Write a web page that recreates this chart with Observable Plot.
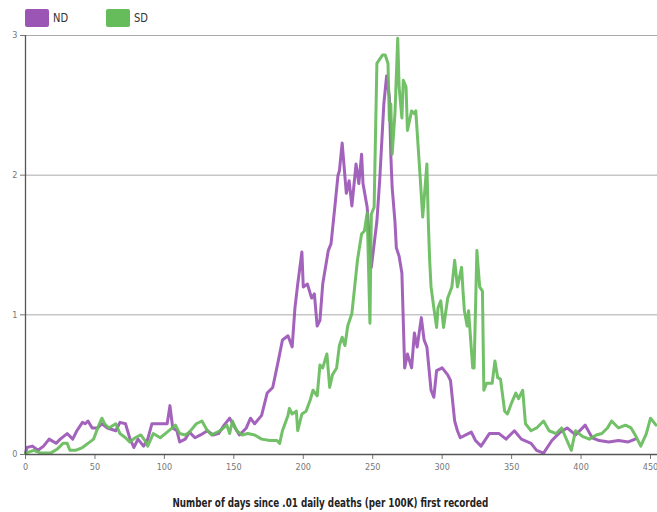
<!DOCTYPE html>
<html>
<head>
<meta charset="utf-8">
<script src="https://cdn.jsdelivr.net/npm/d3@7"></script>
<script src="https://cdn.jsdelivr.net/npm/@observablehq/plot@0.6"></script>
<style>
  html, body { margin: 0; padding: 0; background: #fff; }
  body { width: 657px; height: 512px; overflow: hidden; font-family: "DejaVu Sans Condensed", "Liberation Sans", sans-serif; }
  #legend { position: relative; height: 30px; }
  .sw { position: absolute; top: 9px; width: 24px; height: 18px; border-radius: 2px; }
  .lab { position: absolute; top: 9px; font-size: 13px; line-height: 18px; color: #333; transform: scaleX(0.85); transform-origin: left center; }
  #chart svg { display: block; }
  #xlabel { text-align: center; padding-top: 13px; padding-left: 4px; line-height: 15px; height: 15px; }
  #xlabel span { display: inline-block; vertical-align: top; font-size: 12.5px; line-height: 15px; font-weight: bold; color: #222; transform: scaleX(0.78); transform-origin: center; white-space: nowrap; }
</style>
</head>
<body>
<div id="legend"></div>
<div id="chart"></div>
<div id="xlabel"><span></span></div>
<script>
const seriesNames = ["ND", "SD"];
const seriesColors = ["#9b55b5", "#66bb5a"];
const xTicks = [0, 50, 100, 150, 200, 250, 300, 350, 400, 450];
const yTicks = [0, 1, 2, 3];
const xLabel = "Number of days since .01 daily deaths (per 100K) first recorded";

const ndDay = [0,1,5,9,13,17,22,25,30,34,37,41,43,45,48,52,55,59,65,68,72,75,78,81,85,88,91,97,102,104,106,109,111,115,118,122,126,131,135,139,143,147,151,154,159,162,165,170,174,178,182,185,189,192,194,196,199,200,203,206,208,210,212,214,218,220,223,225,226,228,231,233,235,238,240,242,243,246,248,249,253,255,258,260,262,263,264,266,267,269,271,273,275,278,280,282,285,287,289,292,294,296,300,304,306,309,311,313,317,321,324,328,334,341,346,352,357,364,368,373,379,385,390,396,403,408,413,420,427,434,439];
const ndVal = [0.01,0.05,0.06,0.03,0.06,0.11,0.08,0.11,0.15,0.11,0.17,0.23,0.22,0.24,0.19,0.19,0.22,0.19,0.17,0.23,0.22,0.12,0.05,0.11,0.06,0.11,0.22,0.22,0.22,0.35,0.19,0.17,0.09,0.11,0.16,0.12,0.14,0.17,0.14,0.15,0.21,0.26,0.19,0.14,0.19,0.26,0.22,0.28,0.44,0.48,0.67,0.82,0.85,0.77,1.05,1.22,1.45,1.20,1.22,1.12,1.15,0.92,0.96,1.22,1.46,1.51,1.80,2.00,2.03,2.23,1.87,1.96,1.78,2.08,1.94,2.15,1.94,1.77,1.48,1.34,1.67,1.96,2.51,2.71,2.56,2.15,1.91,1.67,1.48,1.42,1.30,0.62,0.72,0.62,0.87,0.77,0.98,0.82,0.77,0.46,0.41,0.60,0.62,0.57,0.53,0.24,0.17,0.12,0.14,0.16,0.10,0.06,0.15,0.15,0.11,0.17,0.11,0.08,0.03,0.01,0.10,0.16,0.19,0.14,0.21,0.12,0.10,0.09,0.10,0.09,0.11];

const sdDay = [0,6,11,18,23,27,30,32,36,41,45,49,52,55,57,60,65,68,72,75,79,83,86,88,92,97,102,108,111,115,118,123,127,131,134,140,145,147,149,152,156,160,165,170,176,181,183,185,189,190,192,195,196,199,202,205,207,210,212,214,217,219,221,224,226,228,230,232,235,237,239,242,244,246,248,249,251,253,257,259,261,262,263,264,266,268,269,271,272,274,275,278,280,281,284,286,289,290,291,292,294,296,297,299,301,304,307,309,311,314,315,316,318,319,322,323,325,327,329,330,332,336,338,340,342,345,347,350,353,355,358,360,364,368,373,377,382,386,389,393,396,401,406,411,415,419,422,427,432,436,439,443,447,450,454];
const sdVal = [0.01,0.03,0.01,0.01,0.04,0.08,0.08,0.03,0.03,0.05,0.08,0.11,0.19,0.26,0.22,0.19,0.22,0.15,0.12,0.09,0.12,0.14,0.10,0.06,0.15,0.12,0.16,0.21,0.15,0.14,0.16,0.22,0.24,0.17,0.14,0.17,0.21,0.15,0.24,0.17,0.14,0.15,0.14,0.11,0.10,0.10,0.08,0.17,0.28,0.33,0.29,0.31,0.17,0.29,0.31,0.39,0.46,0.42,0.64,0.62,0.72,0.48,0.57,0.62,0.78,0.84,0.78,0.92,1.01,1.20,1.39,1.58,1.60,1.73,0.94,1.72,1.77,2.80,2.86,2.86,2.80,2.39,2.51,2.15,2.44,2.98,2.63,2.41,2.68,2.63,2.32,2.46,2.44,2.46,2.01,1.70,2.08,1.67,1.39,1.20,1.05,0.91,1.05,1.10,0.91,1.12,1.20,1.39,1.20,1.34,1.17,1.03,0.92,1.03,0.62,0.62,1.46,1.20,1.17,0.46,0.51,0.51,0.67,0.55,0.54,0.31,0.29,0.37,0.44,0.40,0.46,0.22,0.17,0.19,0.24,0.17,0.15,0.19,0.12,0.03,0.17,0.13,0.11,0.14,0.15,0.19,0.24,0.19,0.21,0.19,0.14,0.06,0.15,0.26,0.21];

const nd = ndDay.map((d, i) => ({day: d, value: ndVal[i], series: seriesNames[0]}));
const sd = sdDay.map((d, i) => ({day: d, value: sdVal[i], series: seriesNames[1]}));

// legend
const legend = document.getElementById("legend");
const legendPos = [[25, 53], [106, 134]];
seriesNames.forEach((n, i) => {
  const s = document.createElement("div");
  s.className = "sw"; s.style.left = legendPos[i][0] + "px"; s.style.background = seriesColors[i];
  legend.appendChild(s);
  const t = document.createElement("div");
  t.className = "lab"; t.style.left = legendPos[i][1] + "px"; t.textContent = n;
  legend.appendChild(t);
});

const chart = Plot.plot({
  width: 657,
  height: 452,
  marginTop: 5,
  marginBottom: 28,
  marginLeft: 25,
  marginRight: 0,
  style: {fontFamily: '"DejaVu Sans Condensed", sans-serif', fontSize: "9px", color: "#777", background: "#fff", overflow: "visible"},
  x: {domain: [0, 450], range: [25, 650], ticks: xTicks, tickSize: 5, tickPadding: 4, tickFormat: d => String(d), label: null},
  y: {domain: [0, 3], ticks: yTicks, tickSize: 5, tickPadding: 3, tickFormat: d => String(d), label: null},
  marks: [
    Plot.ruleY(yTicks.filter(d => d > 0), {stroke: "#aaa", strokeWidth: 1}),
    Plot.line(nd, {x: "day", y: "value", stroke: seriesColors[0], strokeWidth: 3, strokeOpacity: 0.92, strokeLinejoin: "round", strokeLinecap: "round"}),
    Plot.line(sd, {x: "day", y: "value", stroke: seriesColors[1], strokeWidth: 3, strokeOpacity: 0.92, strokeLinejoin: "round", strokeLinecap: "round"}),
    Plot.ruleY([0], {stroke: "#555", strokeWidth: 1.3}),
    Plot.ruleX([0], {stroke: "#555", strokeWidth: 1.3})
  ]
});
document.getElementById("chart").appendChild(chart);
document.querySelector("#xlabel span").textContent = xLabel;
</script>
</body>
</html>
